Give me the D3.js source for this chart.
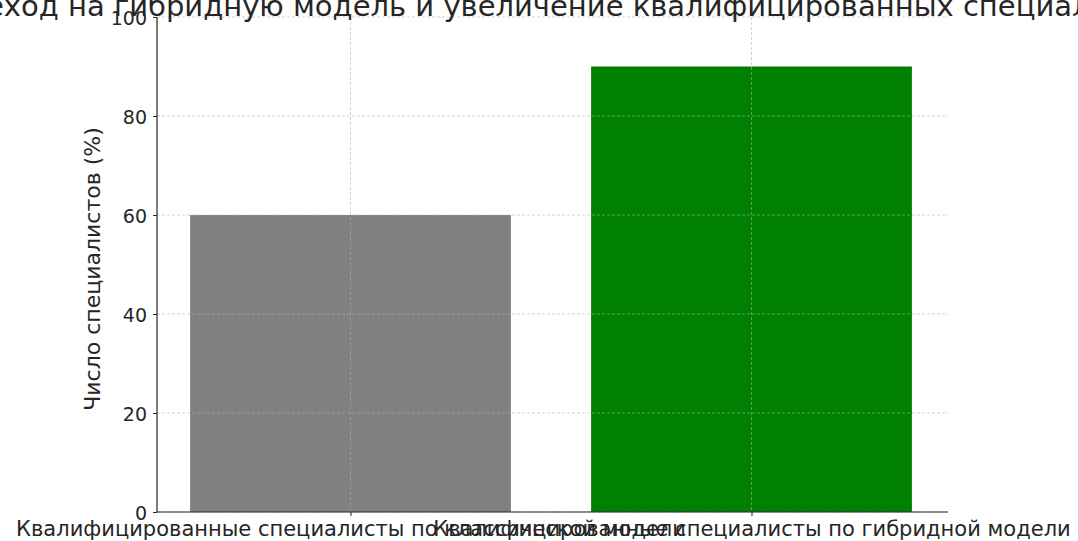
<!DOCTYPE html>
<html><head><meta charset="utf-8">
<script src="https://cdn.jsdelivr.net/npm/d3@7"></script>
<style>body{margin:0;background:#fff}svg{display:block}text{font-family:"DejaVu Sans",sans-serif;fill:#262626}</style>
</head><body>
<svg id="c" width="1078" height="541"></svg>
<script>
const categories = ["Квалифицированные специалисты по классической модели", "Квалифицированные специалисты по гибридной модели"];
const values = [60, 90];
const colors = ["#808080", "#008000"];
const yTicks = [0, 20, 40, 60, 80, 100];
const title = "Переход на гибридную модель и увеличение квалифицированных специалистов";
const yLabel = "Число специалистов (%)";

const svg = d3.select("#c");
const L = 157, R = 948, T = 17, B = 512;
const x = d3.scaleLinear().domain([-0.4825, 1.49]).range([L, R]);
const y = d3.scaleLinear().domain([0, 100]).range([B, T]);
const bw = 0.8;

svg.selectAll("rect.bar").data(values).join("rect").attr("class","bar")
  .attr("x",(d,i)=>x(i-bw/2)).attr("width",(d,i)=>x(i+bw/2)-x(i-bw/2))
  .attr("y",d=>y(d)).attr("height",d=>B-y(d)).attr("fill",(d,i)=>colors[i]);

// grid
const g = svg.append("g").attr("stroke","#b0b0b0").attr("stroke-opacity",0.7).attr("stroke-width",0.8).attr("stroke-dasharray","3,2");
g.selectAll("line.h").data(yTicks).join("line").attr("x1",L).attr("x2",R).attr("y1",d=>y(d)).attr("y2",d=>y(d));
g.selectAll("line.v").data(categories).join("line").attr("x1",(d,i)=>x(i)).attr("x2",(d,i)=>x(i)).attr("y1",T).attr("y2",B);

// axes
const ya = svg.append("g").attr("transform",`translate(${L},0)`).call(d3.axisLeft(y).tickValues(yTicks).tickSize(4).tickPadding(6));
const xa = svg.append("g").attr("transform",`translate(0,${B})`).call(d3.axisBottom(x).tickValues([0,1]).tickFormat((d)=>categories[d]).tickSize(4).tickPadding(5));
[ya,xa].forEach(a=>{a.select(".domain").attr("stroke","#262626").attr("stroke-width",1.2);a.selectAll(".tick line").attr("stroke","#262626");a.selectAll("text").attr("font-family","DejaVu Sans").attr("fill","#262626");});
ya.selectAll("text").attr("font-size",19);
xa.selectAll("text").attr("font-size",21);
ya.select(".domain").attr("d",`M0,${B}V${T}`);
xa.select(".domain").attr("d",`M${L},0H${R}`);
ya.selectAll(".tick text").attr("dy","0.4em");

svg.append("text").attr("x",(L+R)/2).attr("y",16).attr("text-anchor","middle").attr("font-size",29).text(title);
svg.append("text").attr("transform",`translate(100,269) rotate(-90)`).attr("text-anchor","middle").attr("font-size",22).text(yLabel);
</script></body></html>
